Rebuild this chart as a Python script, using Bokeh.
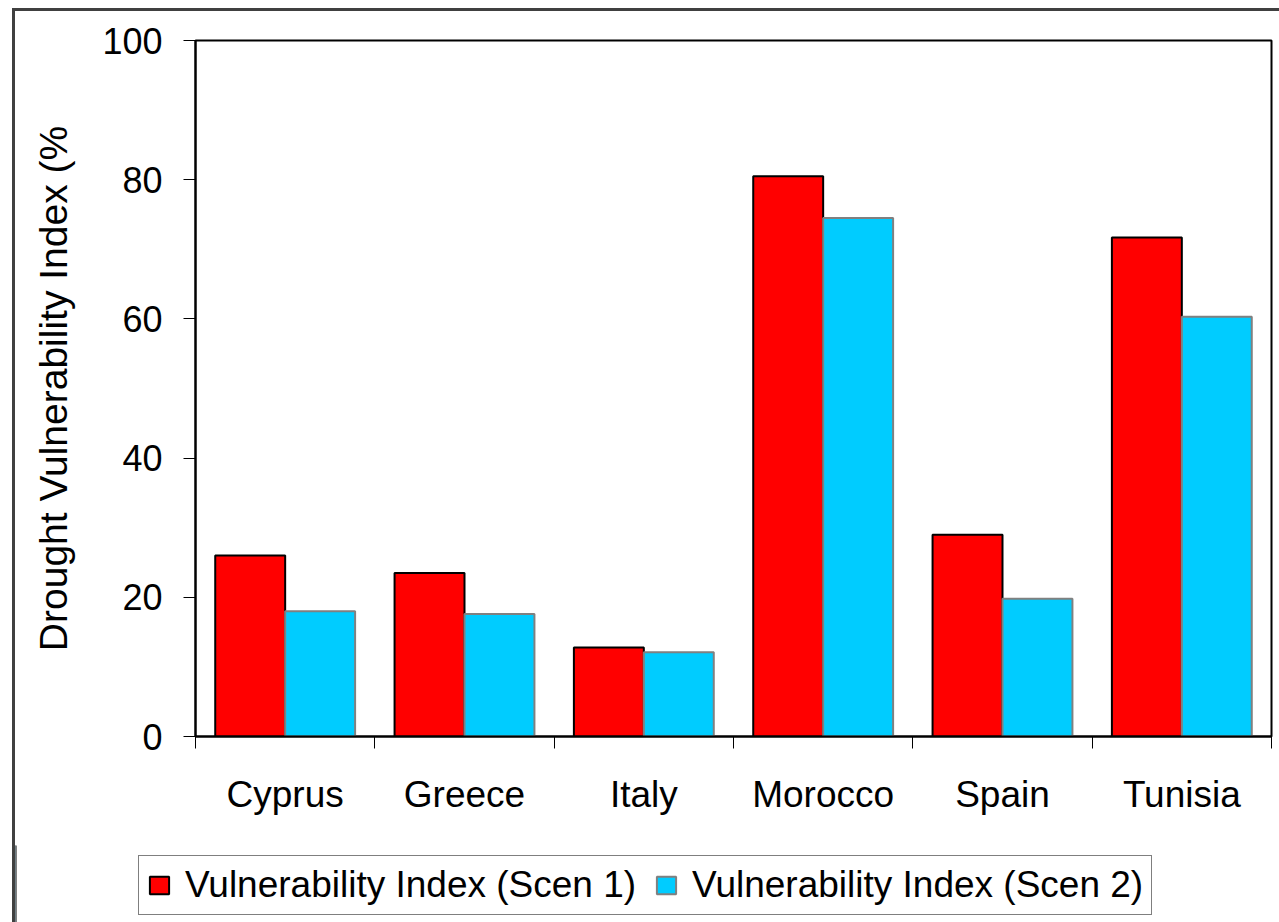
from bokeh.plotting import figure
from bokeh.layouts import column
from bokeh.models import FixedTicker, Legend, LegendItem, Range1d
from bokeh.embed import file_html
from bokeh.resources import INLINE

countries = ["Cyprus", "Greece", "Italy", "Morocco", "Spain", "Tunisia"]
scen1 = [26.0, 23.5, 12.8, 80.5, 29.0, 71.7]
scen2 = [18.0, 17.6, 12.1, 74.5, 19.8, 60.3]
series_names = ["Vulnerability Index (Scen 1)", "Vulnerability Index (Scen 2)"]
y_ticks = [0, 20, 40, 60, 80, 100]

FONT = "Liberation Sans"
W = 1264
H1, H2 = 834, 77
RED, BLUE = "#FF0000", "#00CCFF"

p = figure(width=W, height=H1, output_backend="svg", toolbar_location=None,
           x_range=Range1d(0, len(countries)), y_range=Range1d(0, 100),
           min_border_left=180, min_border_top=29, min_border_right=8,
           min_border_bottom=109)

centers = [i + 0.5 for i in range(len(countries))]
bw = 0.39
p.vbar(x=[c - bw / 2 for c in centers], top=scen1, width=bw, bottom=0,
       fill_color=RED, line_color="black", line_width=2)
p.vbar(x=[c + bw / 2 for c in centers], top=scen2, width=bw, bottom=0,
       fill_color=BLUE, line_color="#808080", line_width=2)

p.grid.visible = False
p.outline_line_color = "black"
p.outline_line_width = 2
p.background_fill_color = "white"
p.border_fill_color = "white"

# x axis
xa = p.xaxis[0]
xa.ticker = FixedTicker(ticks=centers, minor_ticks=list(range(len(countries) + 1)))
xa.major_label_overrides = {c: n for c, n in zip(centers, countries)}
xa.major_tick_out = 0
xa.major_tick_in = 0
xa.minor_tick_out = 12
xa.minor_tick_in = 0
xa.minor_tick_line_color = "black"
xa.minor_tick_line_width = 1
xa.axis_line_color = "black"
xa.axis_line_width = 2
xa.major_label_text_font = FONT
xa.major_label_text_font_size = "37px"
xa.major_label_text_color = "black"
xa.major_label_standoff = 25

# y axis
ya = p.yaxis[0]
ya.ticker = FixedTicker(ticks=y_ticks, minor_ticks=[])
ya.major_tick_out = 12
ya.major_tick_in = 0
ya.major_tick_line_color = "black"
ya.axis_line_color = "black"
ya.axis_line_width = 2
ya.major_label_text_font = FONT
ya.major_label_text_font_size = "36px"
ya.major_label_text_color = "black"
ya.major_label_standoff = 21
ya.axis_label = "Drought Vulnerability Index (%"
ya.axis_label_text_font = FONT
ya.axis_label_text_font_size = "39px"
ya.axis_label_text_font_style = "normal"
ya.axis_label_text_color = "black"
ya.axis_label_standoff = 24

# legend strip
lf = figure(width=W, height=H2, output_backend="svg", toolbar_location=None,
            x_range=Range1d(0, 1), y_range=Range1d(0, 1),
            x_axis_type=None, y_axis_type=None,
            min_border_left=0, min_border_right=0, min_border_top=0, min_border_bottom=0)
lf.frame_align = False
lf.grid.visible = False
lf.outline_line_color = None
lf.background_fill_color = "white"
lf.border_fill_color = "white"
# legend swatches only (placed outside the visible range)
d1 = lf.vbar(x=[-10], top=[1], width=0.1, fill_color=RED, line_color="black", line_width=2)
d2 = lf.vbar(x=[-10], top=[1], width=0.1, fill_color=BLUE, line_color="#808080", line_width=2)

legend = Legend(items=[LegendItem(label=series_names[0], renderers=[d1]),
                       LegendItem(label=series_names[1], renderers=[d2])],
                orientation="horizontal", location=(123, 7))
legend.label_text_font = FONT
legend.label_text_font_size = "37px"
legend.label_text_color = "black"
legend.glyph_width = 24
legend.glyph_height = 22
legend.label_standoff = 14
legend.spacing = 18
legend.padding = 8
legend.margin = 0
legend.border_line_color = "black"
legend.border_line_width = 1.5
legend.background_fill_color = "white"
lf.add_layout(legend, "center")

layout = column(p, lf, spacing=0,
                styles={"border-left": "3px solid #404040",
                        "border-top": "3px solid #404040",
                        "margin-left": "12px", "margin-top": "8px",
                        "background-color": "white"})

open("out.html", "w").write(file_html(layout, INLINE))
